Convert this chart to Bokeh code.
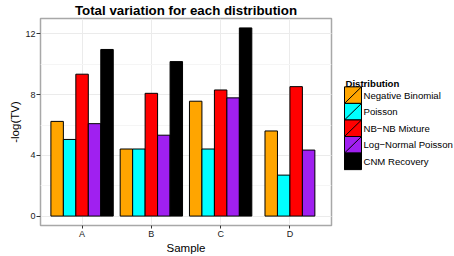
from bokeh.plotting import figure
from bokeh.layouts import row
from bokeh.models import ColumnDataSource, SingleIntervalTicker, FixedTicker, Range1d
from bokeh.core.properties import value
from bokeh.embed import file_html
from bokeh.resources import INLINE

samples = ["A", "B", "C", "D"]
distributions = ["Negative Binomial", "Poisson", "NB\u2212NB Mixture",
                 "Log\u2212Normal Poisson", "CNM Recovery"]
colors = ["#FFA500", "#00FFFF", "#FF0000", "#A020F0", "#000000"]
neg_binomial = [6.24, 4.42, 7.57, 5.61]
poisson = [5.05, 4.42, 4.42, 2.70]
nb_nb_mixture = [9.35, 8.09, 8.31, 8.53]
log_normal_poisson = [6.09, 5.33, 7.79, 4.35]
cnm_recovery = [10.98, 10.18, 12.40, None]

series = [neg_binomial, poisson, nb_nb_mixture, log_normal_poisson, cnm_recovery]

FONT = "Liberation Sans"
BAR_W = 0.18
TOP_B, BOT_B, H = 18, 30, 256

# build dodged bar table
xs, tops, fills = [], [], []
for i, s in enumerate(samples):
    present = [k for k in range(len(series)) if series[k][i] is not None]
    n = len(present)
    for j, k in enumerate(present):
        xs.append(i + 1 + (j - (n - 1) / 2) * BAR_W)
        tops.append(series[k][i])
        fills.append(colors[k])
src = ColumnDataSource(dict(x=xs, top=tops, fill=fills))

p = figure(width=342, height=H, output_backend="svg", toolbar_location=None,
           tools="", x_range=Range1d(0.4, 4.6), y_range=Range1d(-0.62, 13.02),
           min_border_left=40, min_border_right=11, min_border_top=TOP_B,
           min_border_bottom=BOT_B)
p.vbar(x="x", top="top", bottom=0, width=BAR_W, source=src, fill_color="fill",
       line_color="#000000", line_width=1)

p.title.text = "Total variation for each distribution"
p.title.align = "center"
p.title.text_font = FONT
p.title.text_font_size = "13.3px"
p.title.text_font_style = "bold"
p.title.text_color = "#000000"
p.title.standoff = 1
p.title.offset = 0

p.outline_line_color = "#a8a8a8"
p.outline_line_width = 1.5

p.xaxis.ticker = FixedTicker(ticks=[1, 2, 3, 4])
p.xaxis.major_label_overrides = {i + 1: s for i, s in enumerate(samples)}
p.yaxis.ticker = SingleIntervalTicker(interval=4, num_minor_ticks=2)
p.xaxis.axis_label = "Sample"
p.yaxis.axis_label = "-log(TV)"
for ax in (p.xaxis, p.yaxis):
    ax.axis_line_color = None
    ax.major_tick_in = 0
    ax.major_tick_out = 4
    ax.major_tick_line_color = "#333333"
    ax.minor_tick_line_color = None
    ax.major_label_text_font = FONT
    ax.major_label_text_font_size = "9px"
    ax.major_label_text_color = "#1a1a1a"
    ax.major_label_standoff = 1
    ax.axis_label_text_font = FONT
    ax.axis_label_text_font_size = "11.5px"
    ax.axis_label_text_font_style = "normal"
    ax.axis_label_text_color = "#000000"
    ax.axis_label_standoff = 1
p.xaxis.major_tick_out = 3
p.xaxis.major_label_standoff = 0
p.xaxis.axis_label_standoff = 0

p.xgrid.grid_line_color = "#ebebeb"
p.ygrid.grid_line_color = "#ebebeb"
p.ygrid.minor_grid_line_color = "#f5f5f5"
p.background_fill_color = "#ffffff"

# legend drawn in a side panel; its frame is aligned with the main frame,
# so the y range is expressed in page pixels over that frame (y downward)
leg = figure(width=112, height=H, output_backend="svg", toolbar_location=None,
             tools="", x_range=Range1d(0, 112),
             y_range=Range1d(H - BOT_B - 1, TOP_B - 0.5),
             x_axis_location=None, y_axis_location=None, min_border_left=0,
             min_border_right=0, min_border_top=TOP_B, min_border_bottom=BOT_B)
leg.grid.visible = False
leg.outline_line_color = None

key_x0, key_w, key_top, key_h = 2, 17, 86, 16.6
kx0 = [key_x0] * len(distributions)
kx1 = [key_x0 + key_w] * len(distributions)
ky0 = [key_top + k * key_h for k in range(len(distributions))]
ky1 = [y + key_h for y in ky0]
leg.quad(left=kx0, right=kx1, top=ky0, bottom=ky1, fill_color=colors,
         line_color="#000000", line_width=1)
leg.segment(x0=kx0, y0=ky1, x1=kx1, y1=ky0, line_color="#000000", line_width=1)
leg.text(x=[key_x0 + key_w + 2] * len(distributions),
         y=[y + key_h / 2 for y in ky0], text=distributions,
         text_font=value(FONT), text_font_size=value("9.6px"),
         text_baseline="middle", text_align="left", text_color="#000000")
leg.text(x=[key_x0 + 1], y=[key_top - 3], text=["Distribution"],
         text_font=value(FONT), text_font_size=value("9.6px"),
         text_font_style="bold", text_baseline="alphabetic", text_align="left",
         text_color="#000000")

layout = row(p, leg)
open("out.html", "w").write(file_html(layout, INLINE))
